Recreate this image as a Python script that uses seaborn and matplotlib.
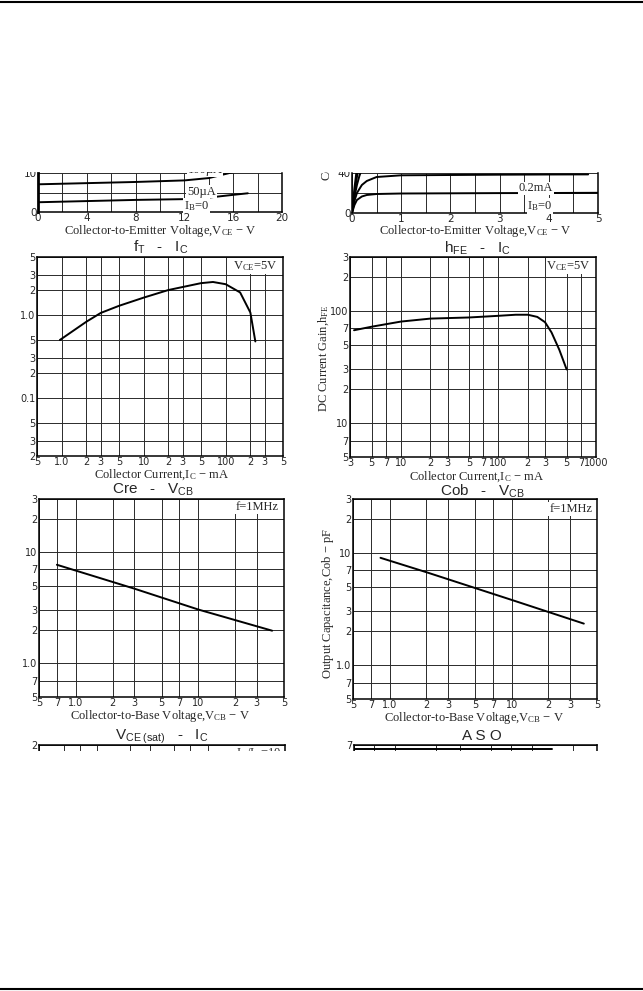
import matplotlib
matplotlib.use("Agg")
import matplotlib.pyplot as plt
import seaborn as sns
import numpy as np
from matplotlib.patches import Rectangle
from matplotlib.lines import Line2D

# ---- data ----
# IC - VCE (left, cropped at top)
vce_a = [0, 0, 4, 8, 12, 14, 16, 17.2]
ic_a0 = [0, 2.5, 2.8, 3.1, 3.3, 3.7, 4.4, 4.8]
vce_b = [0, 0, 4, 8, 12, 14, 15.7, 17]
ic_b50 = [0, 7.1, 7.4, 7.7, 8.1, 8.7, 10.0, 10.8]

# IC - VCE (right, cropped at top)
vce_r = [0, 0.05, 0.1, 0.2, 0.3, 0.5, 1, 2, 3, 4, 5]
ic_r0 = [0, 8, 13, 16.5, 18, 19, 19.5, 19.7, 19.9, 20, 20.2]
vce_r2 = [0, 0.05, 0.1, 0.2, 0.3, 0.5, 1, 2, 3, 4, 4.8]
ic_r02 = [0, 12, 20, 28, 32, 36, 37.7, 38, 38.3, 38.5, 38.6]
vce_steep = [0, 0.05, 0.1, 0.15, 0.2, 0.3]
ic_steep1 = [0, 25, 45, 60, 70, 80]
ic_steep2 = [0, 20, 36, 48, 58, 70]
ic_steep3 = [0, 16, 28, 37, 44, 55]

# fT - IC
ic_ft = [0.95, 2, 3, 5, 10, 20, 50, 70, 100, 150, 200, 230]
ft = [0.5, 0.83, 1.06, 1.29, 1.62, 2.0, 2.42, 2.5, 2.35, 1.87, 1.07, 0.48]

# hFE - IC
ic_hfe = [3.3, 5, 10, 20, 50, 100, 150, 200, 250, 300, 350, 420, 500]
hfe = [67, 72, 80, 85, 87, 90, 92, 92, 88, 79, 64, 45, 30]

# Cre - VCB
vcb_cre = [0.7, 3, 10, 40]
cre = [7.7, 4.7, 3.05, 1.97]

# Cob - VCB
vcb_cob = [0.84, 2, 10, 39]
cob = [9.0, 6.7, 3.8, 2.34]

# ASO (only the top edge is visible)
vce_aso = [0.5, 14]
ic_aso = [6.4, 6.4]

# tick labels
ft_xt = [0.5, 1, 2, 3, 5, 10, 20, 30, 50, 100, 200, 300, 500]
ft_xl = ["5", "1.0", "2", "3", "5", "10", "2", "3", "5", "100", "2", "3", "5"]
ft_yt = [0.02, 0.03, 0.05, 0.1, 0.2, 0.3, 0.5, 1, 2, 3, 5]
ft_yl = ["2", "3", "5", "0.1", "2", "3", "5", "1.0", "2", "3", "5"]
hfe_xt = [3, 5, 7, 10, 20, 30, 50, 70, 100, 200, 300, 500, 700, 1000]
hfe_xl = ["3", "5", "7", "10", "2", "3", "5", "7", "100", "2", "3", "5", "7", "1000"]
hfe_yt = [5, 7, 10, 20, 30, 50, 70, 100, 200, 300]
hfe_yl = ["5", "7", "10", "2", "3", "5", "7", "100", "2", "3"]
c_xt = [0.5, 0.7, 1, 2, 3, 5, 7, 10, 20, 30, 50]
c_xl = ["5", "7", "1.0", "2", "3", "5", "7", "10", "2", "3", "5"]
c_yt = [0.5, 0.7, 1, 2, 3, 5, 7, 10, 20, 30]
c_yl = ["5", "7", "1.0", "2", "3", "5", "7", "10", "2", "3"]
sat_xt = [0.3, 0.5, 0.7, 1, 2, 3, 5, 7, 10, 20, 30, 50]
aso_xt = [0.5, 0.7, 1, 2, 3, 5, 7, 10, 20, 30]

sns.set_style("white")
plt.rcParams['font.family'] = ['DejaVu Sans']
plt.rcParams['mathtext.fontset'] = 'custom'
plt.rcParams['mathtext.rm'] = 'Liberation Serif'
plt.rcParams['mathtext.it'] = 'Liberation Serif:italic'
plt.rcParams['mathtext.sf'] = 'Liberation Sans'

W, H = 643, 991
fig = plt.figure(figsize=(W / 100, H / 100), dpi=100)

SERIF = 'Liberation Serif'
SANS = 'Liberation Sans'
LW = 1.4
FS = 9


def make_ax(x0, y0, x1, y1):
    return fig.add_axes([x0 / W, 1 - y1 / H, (x1 - x0) / W, (y1 - y0) / H])


def ftext(x, y, s, **kw):
    kw.setdefault('ha', 'center')
    kw.setdefault('va', 'center')
    return fig.text(x / W, 1 - y / H, s, **kw)


def style(ax, log=True):
    if log:
        ax.set_xscale('log')
        ax.set_yscale('log')


def finish(ax, xlim, ylim, xt, xl, yt, yl, size=7):
    ax.set_xlim(xlim)
    ax.set_ylim(ylim)
    ax.set_xticks(xt, xl)
    ax.set_yticks(yt, yl)
    ax.minorticks_off()
    ax.grid(True, color='#2a2a2a', lw=0.7)
    ax.tick_params(length=0, pad=1, labelsize=size)
    for s in ax.spines.values():
        s.set_linewidth(1.1)
        s.set_color('black')
    ax.set_xlabel("")
    ax.set_ylabel("")


def curve(ax, x, y):
    sns.lineplot(x=x, y=y, ax=ax, color='black', lw=LW, estimator=None, sort=False)


box = dict(facecolor='white', edgecolor='none', pad=0.5)

# ---- IC - VCE left (cropped) ----
ax = make_ax(38, 173, 282, 212)
curve(ax, vce_a, ic_a0)
curve(ax, vce_b, ic_b50)
finish(ax, (0, 20), (0, 10), list(range(0, 21, 2)),
       ["0", "", "4", "", "8", "", "12", "", "16", "", "20"], [0, 5, 10], ["0", "", "10"], size=7.5)
ax.spines['top'].set_visible(False)
ax.spines['left'].set_linewidth(2)
ax.text(13.4, 5.2, "50µA", family=SERIF, fontsize=FS, ha='center', va='center', bbox=box)
ax.text(13.0, 1.6, "I$_\\mathrm{B}$=0", family=SERIF, fontsize=FS, ha='center', va='center', bbox=box)
ax.text(13.7, 10.7, "100µA", family=SERIF, fontsize=FS, ha='center', va='center', bbox=box)
ftext(160, 231, "Collector-to-Emitter Voltage,V$_\\mathrm{CE}$ $-$ V", family=SERIF, fontsize=FS)

# ---- IC - VCE right (cropped) ----
ax = make_ax(352, 173, 598, 213)
curve(ax, vce_r, ic_r0)
curve(ax, vce_r2, ic_r02)
curve(ax, vce_steep, ic_steep1)
curve(ax, vce_steep, ic_steep2)
curve(ax, vce_steep, ic_steep3)
finish(ax, (0, 5), (0, 40), list(np.arange(0, 5.01, 0.5)),
       ["0", "", "1", "", "2", "", "3", "", "4", "", "5"], [0, 20, 40], ["0", "", "40"], size=7.5)
ax.spines['top'].set_visible(False)
ax.text(3.74, 24.7, "0.2mA", family=SERIF, fontsize=FS, ha='center', va='center', bbox=box)
ax.text(3.82, 7, "I$_\\mathrm{B}$=0", family=SERIF, fontsize=FS, ha='center', va='center', bbox=box)
ftext(327, 181, "Collector Current,I$_\\mathrm{C}$ $-$ mA", family=SERIF, fontsize=FS,
      rotation=90, va='bottom')
ftext(475, 231, "Collector-to-Emitter Voltage,V$_\\mathrm{CE}$ $-$ V", family=SERIF, fontsize=FS)

# ---- fT - IC ----
ftext(161, 247, "f$_\\mathsf{T}$   -   I$_\\mathsf{C}$", family=SANS, fontsize=11)
ax = make_ax(37, 257, 283, 456)
style(ax)
curve(ax, ic_ft, ft)
finish(ax, (0.5, 500), (0.02, 5), ft_xt, ft_xl, ft_yt, ft_yl)
ax.text(0.98, 0.955, "V$_\\mathrm{CE}$=5V", transform=ax.transAxes, family=SERIF, fontsize=FS,
        ha='right', va='center', bbox=box)
ftext(162, 475, "Collector Current,I$_\\mathrm{C}$ $-$ mA", family=SERIF, fontsize=FS)

# ---- hFE - IC ----
ftext(477, 248, "h$_\\mathsf{FE}$   -   I$_\\mathsf{C}$", family=SANS, fontsize=11)
ax = make_ax(350, 257, 596, 457)
style(ax)
curve(ax, ic_hfe, hfe)
finish(ax, (3, 1000), (5, 300), hfe_xt, hfe_xl, hfe_yt, hfe_yl)
ax.text(0.98, 0.955, "V$_\\mathrm{CE}$=5V", transform=ax.transAxes, family=SERIF, fontsize=FS,
        ha='right', va='center', bbox=box)
ftext(477, 477, "Collector Current,I$_\\mathrm{C}$ $-$ mA", family=SERIF, fontsize=FS)
ftext(324, 358, "DC Current Gain,h$_\\mathrm{FE}$", family=SERIF, fontsize=FS, rotation=90)

# ---- Cre - VCB ----
ftext(153, 490, "Cre   -   V$_\\mathsf{CB}$", family=SANS, fontsize=11)
ax = make_ax(39, 499, 284, 697)
style(ax)
curve(ax, vcb_cre, cre)
finish(ax, (0.5, 50), (0.5, 30), c_xt, c_xl, c_yt, c_yl)
ax.text(0.98, 0.96, "f=1MHz", transform=ax.transAxes, family=SERIF, fontsize=FS,
        ha='right', va='center', bbox=box)
ftext(160, 716, "Collector-to-Base Voltage,V$_\\mathrm{CB}$ $-$ V", family=SERIF, fontsize=FS)

# ---- Cob - VCB ----
ftext(482, 491, "Cob   -   V$_\\mathsf{CB}$", family=SANS, fontsize=11)
ax = make_ax(353, 499, 597, 699)
style(ax)
curve(ax, vcb_cob, cob)
finish(ax, (0.5, 50), (0.5, 30), c_xt, c_xl, c_yt, c_yl)
ax.text(0.98, 0.95, "f=1MHz", transform=ax.transAxes, family=SERIF, fontsize=FS,
        ha='right', va='center', bbox=box)
ftext(474, 718, "Collector-to-Base Voltage,V$_\\mathrm{CB}$ $-$ V", family=SERIF, fontsize=FS)
ftext(328, 604, "Output Capacitance,Cob $-$ pF", family=SERIF, fontsize=FS, rotation=90)

# ---- VCE(sat) - IC (cropped) ----
ftext(162, 737, "V$_\\mathsf{CE\\ (sat)}$   -   I$_\\mathsf{C}$", family=SANS, fontsize=11)
ax = make_ax(39, 745, 285, 765)
style(ax)
finish(ax, (0.3, 50), (1.4, 2), sat_xt, [""] * len(sat_xt), [2], ["2"])
ax.spines['bottom'].set_visible(False)
ax.text(0.985, 0.93, "I$_\\mathrm{C}$/I$_\\mathrm{B}$=10", transform=ax.transAxes, family=SERIF,
        fontsize=FS, ha='right', va='top', bbox=box)

# ---- ASO (cropped) ----
ftext(482, 736, "A S O", family=SANS, fontsize=11)
ax = make_ax(354, 745, 597, 765)
style(ax)
curve(ax, vce_aso, ic_aso)
finish(ax, (0.5, 30), (4.5, 7), aso_xt, [""] * len(aso_xt), [7], ["7"])
ax.spines['bottom'].set_visible(False)

# page crop masks and page rules
fig.add_artist(Rectangle((0, 1 - 172 / H), 1, (172 - 5) / H, transform=fig.transFigure,
                         facecolor='white', edgecolor='none', zorder=10))
fig.add_artist(Rectangle((0, 1 - 986 / H), 1, (986 - 751) / H, transform=fig.transFigure,
                         facecolor='white', edgecolor='none', zorder=10))
fig.add_artist(Line2D([0, 1], [1 - 2 / H, 1 - 2 / H], transform=fig.transFigure,
                      color='black', lw=1.5, zorder=11))
fig.add_artist(Line2D([0, 1], [1 - 989 / H, 1 - 989 / H], transform=fig.transFigure,
                      color='black', lw=1.5, zorder=11))

fig.savefig("out.png", dpi=100, facecolor='white')
